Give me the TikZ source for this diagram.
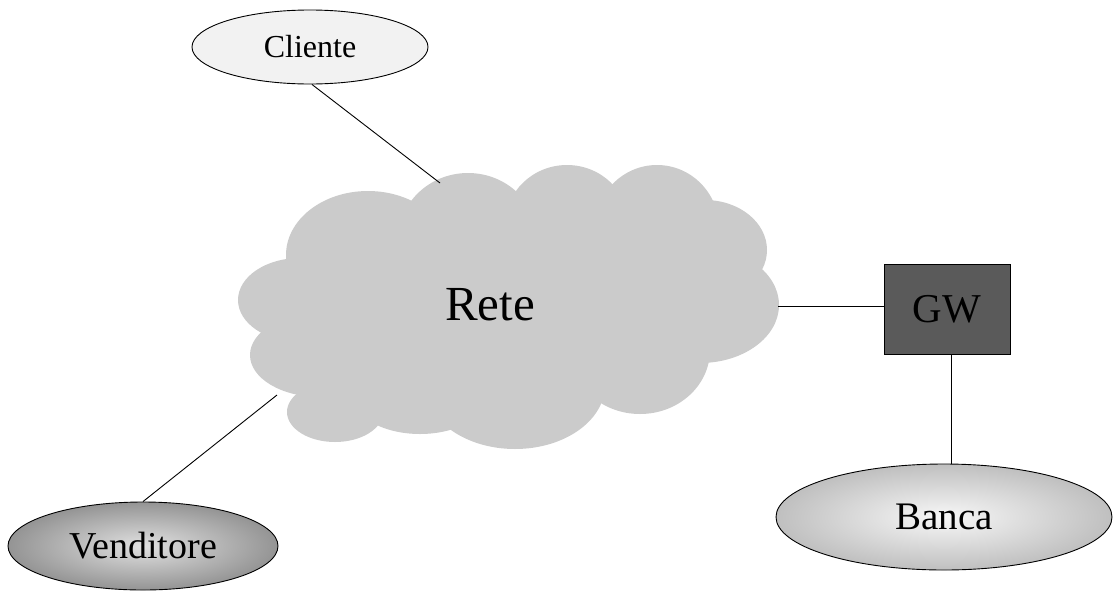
\documentclass[tikz,border=0pt]{standalone}
\usepackage{fontspec}
\setmainfont{Liberation Serif}
\usetikzlibrary{shapes.geometric}
\definecolor{cloudgray}{HTML}{CBCBCB}
\definecolor{clientfill}{HTML}{F2F2F2}
\definecolor{gwfill}{HTML}{5A5A5A}
\tikzset{
  conn/.style={draw=black, line width=0.9pt},
  oval/.style={ellipse, draw=black, line width=0.9pt, inner sep=0pt},
  puff/.style={fill=cloudgray, draw=none},
}
\newcommand{\fs}[1]{\fontsize{#1}{#1}\selectfont}
\begin{document}
\begin{tikzpicture}[x=1pt, y=-1pt]
\useasboundingbox (0,0) rectangle (1113,592);
% cloud
\foreach \cx/\cy/\rx/\ry in {368/255/82/64, 468/240/70/67, 567/225/62/60, 657/228/62/63,
  705/250/62/50, 700/305/79/58, 640/350/70/64, 515/385/90/64, 420/392/70/42,
  335/412/48/30, 320/355/70/42, 300/300/62/42, 510/310/220/100}
  \fill[puff] (\cx,\cy) ellipse [x radius=\rx pt, y radius=\ry pt];
\node[font=\fs{49}] (rete) at (490,305) {Rete};
\coordinate (cloudtop) at (440,183);
\coordinate (cloudright) at (778,306);
\coordinate (cloudleft) at (277,395);
% nodes
\node[oval, fill=clientfill, minimum width=236pt, minimum height=74pt, font=\fs{32}] (cliente) at (310,47) {Cliente};
\node[oval, shade, shading=radial, inner color=black!12, outer color=black!42,
      minimum width=270pt, minimum height=88pt, font=\fs{38}] (vend) at (143,546) {Venditore};
\node[oval, shade, shading=radial, inner color=black!3, outer color=black!25,
      minimum width=336pt, minimum height=106pt, font=\fs{39}] (banca) at (944,517) {Banca};
\node[rectangle, draw=black, line width=0.9pt, fill=gwfill, minimum width=126pt, minimum height=90pt,
      inner sep=0pt, font=\fs{41}] (gw) at (947,309) {GW};
% connectors
\draw[conn] (cliente.-87) -- (cloudtop);
\draw[conn] (vend.north) -- (cloudleft);
\draw[conn] (cloudright) -- (gw.west |- cloudright);
\draw[conn] ([xshift=4pt]gw.south) -- ([xshift=4pt]gw.south |- banca.north);
\end{tikzpicture}
\end{document}
